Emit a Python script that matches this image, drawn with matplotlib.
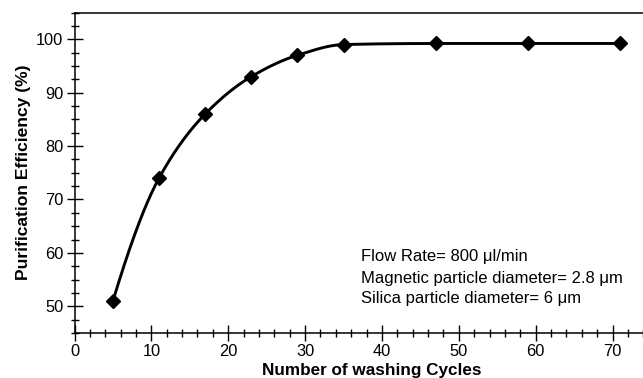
import numpy as np
import matplotlib.pyplot as plt
from matplotlib.ticker import MultipleLocator

# Washing cycles vs purification efficiency
cycles = [5, 11, 17, 23, 29, 35, 47, 59, 71]
efficiency = [51, 74, 86, 93, 97, 99, 99.2, 99.2, 99.2]

notes = ['Flow Rate= 800 \u03bcl/min',
         'Magnetic particle diameter= 2.8 \u03bcm',
         'Silica particle diameter= 6 \u03bcm']

plt.rcParams['font.family'] = ['Liberation Sans', 'DejaVu Sans']


def pchip(x, y, xs):
    # monotone cubic (Fritsch-Carlson) through the measured points
    x = np.asarray(x, float)
    y = np.asarray(y, float)
    h = np.diff(x)
    d = np.diff(y) / h
    m = np.zeros_like(y)
    for i in range(1, len(x) - 1):
        if d[i - 1] * d[i] > 0:
            w1 = 2 * h[i] + h[i - 1]
            w2 = h[i] + 2 * h[i - 1]
            m[i] = (w1 + w2) / (w1 / d[i - 1] + w2 / d[i])
    m[0] = ((2 * h[0] + h[1]) * d[0] - h[0] * d[1]) / (h[0] + h[1])
    if np.sign(m[0]) != np.sign(d[0]):
        m[0] = 0
    m[-1] = 0
    idx = np.clip(np.searchsorted(x, xs) - 1, 0, len(x) - 2)
    t = (xs - x[idx]) / h[idx]
    h00 = 2 * t**3 - 3 * t**2 + 1
    h10 = t**3 - 2 * t**2 + t
    h01 = -2 * t**3 + 3 * t**2
    h11 = t**3 - t**2
    return (h00 * y[idx] + h10 * h[idx] * m[idx]
            + h01 * y[idx + 1] + h11 * h[idx] * m[idx + 1])


xs = np.linspace(cycles[0], cycles[-1], 400)
ys = pchip(cycles, efficiency, xs)

fig = plt.figure(figsize=(6.43, 3.78), dpi=100, facecolor='white')
# axes run off the right edge of the figure
ax = fig.add_axes([74.5 / 643, 45 / 378, 576.5 / 643, 320.5 / 378])

ax.plot(xs, ys, color='black', lw=2.1)
ax.plot(cycles, efficiency, linestyle='none', marker='D', color='black', markersize=6.8)

ax.set_xlim(0, 75)
ax.set_ylim(45, 105)
ax.xaxis.set_major_locator(MultipleLocator(10))
ax.xaxis.set_minor_locator(MultipleLocator(2))
ax.yaxis.set_major_locator(MultipleLocator(10))
ax.yaxis.set_minor_locator(MultipleLocator(2.5))

ax.spines['right'].set_visible(False)
for s in ['left', 'top', 'bottom']:
    ax.spines[s].set_linewidth(1.1)

ax.tick_params(which='major', direction='inout', length=12, width=1.0, labelsize=11.8, pad=2)
ax.tick_params(which='minor', direction='inout', length=6, width=1.0)
ax.tick_params(top=False, right=False, which='both')

ax.set_ylabel('Purification Efficiency (%)', fontsize=12.6, fontweight='bold', labelpad=4)
fig.text(372 / 643, 1 - 371 / 378, 'Number of washing Cycles', fontsize=12.3,
         fontweight='bold', ha='center', va='center')

for i, t in enumerate(notes):
    fig.text(361 / 643, 1 - (257 + 21 * i) / 378, t, fontsize=12, va='center', ha='left')

plt.savefig('out.png', dpi=100)
